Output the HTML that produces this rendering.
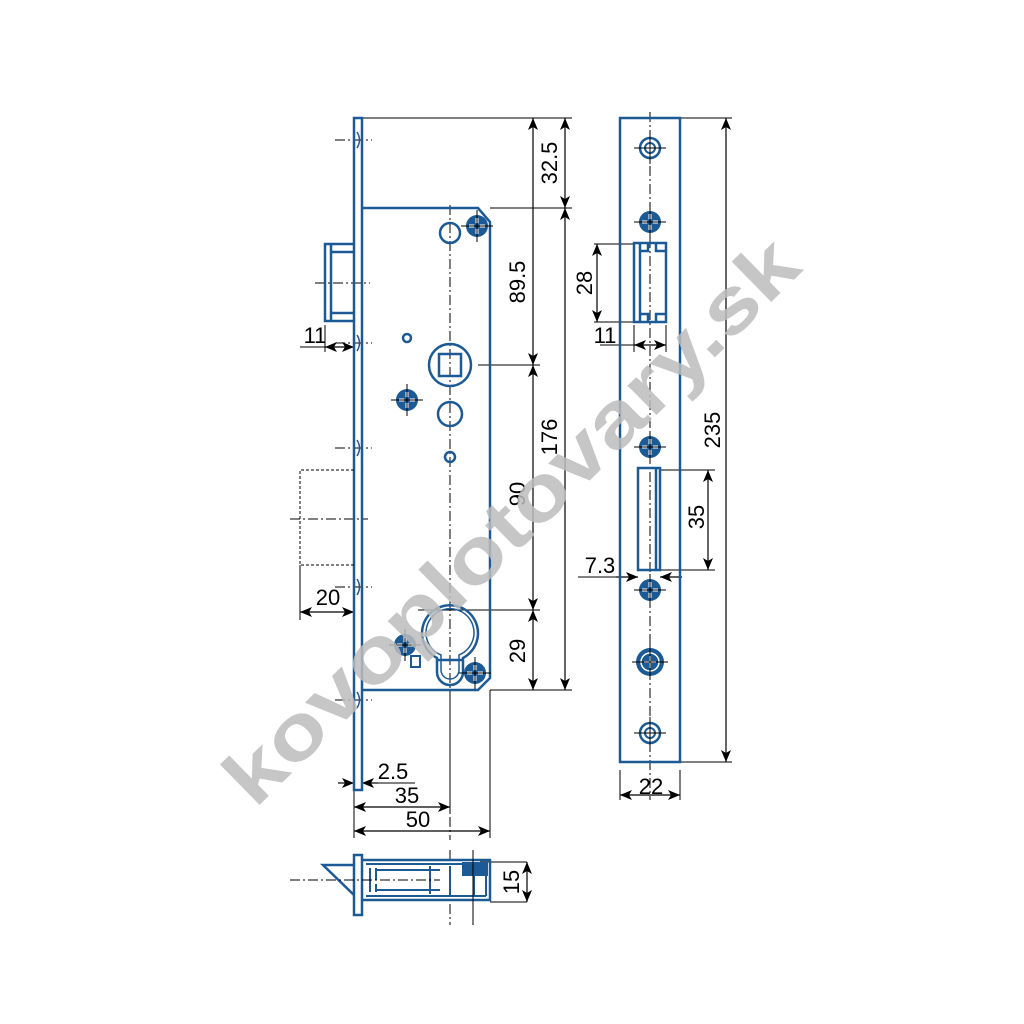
<!DOCTYPE html>
<html><head><meta charset="utf-8"><style>
html,body{margin:0;padding:0;background:#fff}
svg{display:block}
text{font-family:"Liberation Sans",Arial,sans-serif;fill:#000}
</style></head><body>
<svg width="1024" height="1024" viewBox="0 0 1024 1024" xmlns="http://www.w3.org/2000/svg">
<defs>
<marker id="a" viewBox="0 0 12 10" refX="12" refY="5" markerWidth="12" markerHeight="10" orient="auto-start-reverse" markerUnits="userSpaceOnUse"><path d="M0,0 L12,5 L0,10 L3,5z" fill="#000"/></marker>
<g id="scr"><circle r="11" fill="#1c5a96"/><path d="M-8,0H8M0,-8V8" stroke="#fff" stroke-width="3"/><circle r="3" fill="#1c5a96"/><path d="M-16,0H16M0,-16V16" stroke="#000" stroke-width="1"/></g>
<g id="ring"><circle r="10" fill="none" stroke="#1c5a96" stroke-width="2.5"/><circle r="5" fill="none" stroke="#1c5a96" stroke-width="2"/><path d="M-16,0H16M0,-16V16" stroke="#000" stroke-width="1"/></g>
</defs>
<g fill="none" stroke="#000" stroke-width="1">
<path d="M450,205V840M450,850V925" stroke-dasharray="10,3,2,3"/>
<path d="M650,112V800" stroke-dasharray="10,3,2,3"/>
<path d="M290,519H368M315,283H370M335,140H372M335,343H372M335,448H372M335,587H372M335,700H372" stroke-dasharray="10,3,2,3"/>
<path d="M362,118H572M490,208H572M478,365H540M418,610H540M490,690H572"/>
<path d="M354,790V838M450,700V812M490,690V838"/>
<path d="M300,347H325M325,325V352M300,565V620M620,118H732M680,762H732M594,244H634M594,322H634M620,770V800M680,770V800M660,470H715M660,570H715M527,862H480M527,902H490M578,577H638M600,345H634M634,325V352M666,325V352"/>
</g>
<g fill="none" stroke="#000" stroke-width="1.2" marker-start="url(#a)" marker-end="url(#a)">
<line x1="565" y1="118" x2="565" y2="208"/>
<line x1="533" y1="118" x2="533" y2="365"/>
<line x1="565" y1="208" x2="565" y2="690"/>
<line x1="533" y1="365" x2="533" y2="610"/>
<line x1="533" y1="610" x2="533" y2="690"/>
<line x1="726" y1="118" x2="726" y2="762"/>
<line x1="597" y1="244" x2="597" y2="322"/>
<line x1="708" y1="470" x2="708" y2="570"/>
<line x1="527" y1="862" x2="527" y2="902"/>
<line x1="325" y1="347" x2="354" y2="347"/>
<line x1="300" y1="612" x2="354" y2="612"/>
<line x1="354" y1="807" x2="450" y2="807"/>
<line x1="354" y1="831" x2="490" y2="831"/>
<line x1="620" y1="795" x2="680" y2="795"/>
<line x1="634" y1="345" x2="666" y2="345"/>
</g>
<g fill="none" stroke="#000" stroke-width="1.2" marker-end="url(#a)">
<line x1="338" y1="783" x2="354" y2="783"/>
<line x1="378" y1="783" x2="362" y2="783"/>
<line x1="616" y1="577" x2="638" y2="577"/>
<line x1="682" y1="577" x2="660" y2="577"/>
</g>
<path d="M362,783H415" stroke="#000"/>
<g fill="none" stroke="#1c5a96" stroke-width="2.5">
<rect x="354" y="118" width="8" height="672"/>
<path d="M362,208H478L490,222V678L478,690H362"/>
<path d="M353,244H325V321H353M331,244V252H353M331,321V313H353M331,252V313"/>
<circle cx="450" cy="233" r="10"/>
<circle cx="407" cy="338" r="4"/>
<circle cx="450" cy="365" r="21"/><rect x="439" y="354" width="22" height="22"/>
<circle cx="450" cy="414" r="12"/>
<circle cx="450" cy="457" r="5"/>
<path d="M437,658 A28,28 0 1 1 463,658 V672 A13,13 0 0 1 437,672 Z"/>
<path d="M441,655 A24,24 0 1 1 459,655 V670 A9,9 0 0 1 441,670 Z" stroke-width="1.5"/>
<path d="M437,660H463"/>
<rect x="411" y="656" width="9" height="11" stroke-width="2"/>
<rect x="620" y="118" width="60" height="644"/>
<rect x="634" y="243" width="32" height="79"/>
<path d="M640,243V322M640,251H648V243M656,243V251H666M640,314H648V322M656,322V314H666"/>
<rect x="638" y="468" width="22" height="102"/>
<path d="M656,468V570"/>
<rect x="354" y="855" width="8" height="60"/>
<path d="M362,860H490V900H362"/>
<path d="M354,865H323L354,895"/>
<path d="M366,864H486M366,896H486M370,868V892M376,868V880M376,884V892M376,870H440M376,890H440M430,866V894M450,866V896M462,866H486V896M474,866V896" stroke-width="2"/>
</g>
<rect x="462" y="862" width="26" height="14" fill="#1c5a96"/>
<path d="M290,880H440" stroke="#000" stroke-width="1" stroke-dasharray="10,3,2,3"/>
<path d="M473,850V925" stroke="#000" stroke-width="1"/>
<path d="M354,470H300V565H354" fill="none" stroke="#000" stroke-width="1" stroke-dasharray="3,2"/>
<g fill="none" stroke="#1c5a96" stroke-width="1.5">
<path d="M357,132Q362,140 357,148M357,335Q362,343 357,351M357,440Q362,448 357,456M357,579Q362,587 357,595M357,692Q362,700 357,708"/>
</g>
<use href="#scr" x="477" y="226"/>
<use href="#scr" x="407" y="400"/>
<use href="#scr" x="405" y="645"/>
<use href="#scr" x="475" y="673"/>
<use href="#scr" x="650" y="222"/>
<use href="#scr" x="650" y="447"/>
<use href="#scr" x="650" y="590"/>
<use href="#ring" x="650" y="148"/>
<use href="#ring" x="650" y="733"/>
<g transform="translate(650,662)"><circle r="14" fill="#1c5a96"/><circle r="9" fill="none" stroke="#fff" stroke-width="1.5"/><path d="M-6,0H6M0,-6V6" stroke="#fff" stroke-width="2"/><path d="M-18,0H18M0,-18V18" stroke="#000"/></g>
<g font-size="22">
<text x="315" y="343" text-anchor="middle">11</text>
<text x="328" y="605" text-anchor="middle">20</text>
<text x="393" y="779" text-anchor="middle">2.5</text>
<text x="407" y="803" text-anchor="middle">35</text>
<text x="418" y="827" text-anchor="middle">50</text>
<text x="605" y="343" text-anchor="middle">11</text>
<text x="600" y="573" text-anchor="middle">7.3</text>
<text x="651" y="794" text-anchor="middle">22</text>
<text transform="translate(557,163) rotate(-90)" text-anchor="middle">32.5</text>
<text transform="translate(525,282) rotate(-90)" text-anchor="middle">89.5</text>
<text transform="translate(557,437) rotate(-90)" text-anchor="middle">176</text>
<text transform="translate(525,494) rotate(-90)" text-anchor="middle">90</text>
<text transform="translate(525,651) rotate(-90)" text-anchor="middle">29</text>
<text transform="translate(519,882) rotate(-90)" text-anchor="middle">15</text>
<text transform="translate(592,283) rotate(-90)" text-anchor="middle">28</text>
<text transform="translate(704,517) rotate(-90)" text-anchor="middle">35</text>
<text transform="translate(720,430) rotate(-90)" text-anchor="middle">235</text>
</g>
<text transform="translate(515,525) rotate(-44.5)" text-anchor="middle" dominant-baseline="middle" font-size="78" font-weight="bold" style="fill:#bdbdbd" opacity="0.85" textLength="770" lengthAdjust="spacingAndGlyphs">kovoplotovary.sk</text>
</svg>
</body></html>
